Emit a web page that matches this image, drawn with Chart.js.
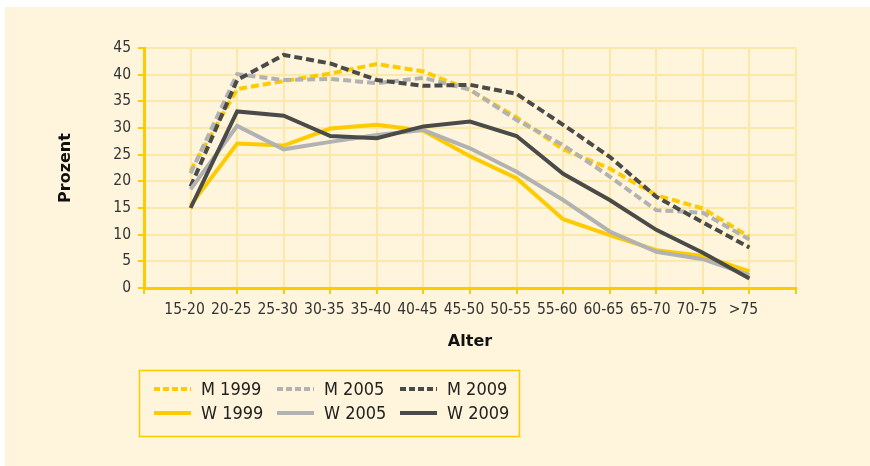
<!DOCTYPE html>
<html lang="de">
<head>
    <meta charset="UTF-8">
    <title>Prozent nach Alter</title>
    <script src="https://cdn.jsdelivr.net/npm/chart.js@4.4.1/dist/chart.umd.min.js"></script>
    <style>
        body {
            margin: 0;
            background-color: #FFFFFF;
        }
        #panel {
            position: absolute;
            left: 5px;
            top: 7px;
            right: 0;
            bottom: 0;
            background-color: #FEF5DC;
        }
        #wrap {
            position: absolute;
            left: 0;
            top: 0;
            width: 870px;
            height: 466px;
        }
    </style>
</head>
<body>
    <div id="panel"></div>
    <div id="wrap"><canvas id="ageChart" width="870" height="466"></canvas></div>

    <script>
        // Altersgruppen (x-Achse)
        const ageGroups = ['15-20', '20-25', '25-30', '30-35', '35-40', '40-45', '45-50',
                           '50-55', '55-60', '60-65', '65-70', '70-75', '>75'];

        // Werte in Prozent
        const m1999 = [22.0, 37.3, 38.8, 40.2, 42.0, 40.6, 37.1, 32.0, 26.0, 22.4, 17.4, 14.9, 9.6];
        const m2005 = [21.5, 40.1, 39.0, 39.2, 38.4, 39.4, 37.2, 31.5, 26.8, 20.9, 14.6, 14.1, 9.1];
        const m2009 = [19.0, 39.0, 43.7, 42.1, 39.0, 37.9, 38.1, 36.4, 30.6, 24.6, 17.1, 12.3, 7.6];
        const w1999 = [15.5, 27.1, 26.7, 29.9, 30.6, 29.5, 24.7, 20.6, 12.9, 9.9, 7.1, 6.0, 3.1];
        const w2005 = [18.5, 30.4, 26.0, 27.4, 28.7, 29.6, 26.2, 21.8, 16.5, 10.6, 6.8, 5.4, 2.4];
        const w2009 = [15.0, 33.1, 32.3, 28.5, 28.1, 30.3, 31.2, 28.5, 21.4, 16.5, 10.9, 6.6, 1.8];

        const yTicksMax = 45;
        const yTicksStep = 5;

        const yellow = '#FDCB00';
        const lightGray = '#B2B2B2';
        const darkGray = '#4A4A48';
        const tickFont = { family: 'DejaVu Sans Condensed', size: 15.5 };
        const textColor = '#333333';

        const toPoints = (values) => values.map((v, i) => ({ x: i, y: v }));

        // order: lower number is drawn on top
        function makeSet(label, values, color, dashed, order) {
            return {
                label: label,
                data: toPoints(values),
                borderColor: color,
                backgroundColor: color,
                borderWidth: 4,
                borderDash: dashed ? [8, 4] : [],
                pointRadius: 0,
                tension: 0,
                fill: false,
                order: order
            };
        }

        // legend box drawn on the canvas, 3 columns x 2 rows
        const boxLegend = {
            id: 'boxLegend',
            afterDraw(chart) {
                const ctx = chart.ctx;
                const area = chart.chartArea;
                const left = area.left - 4.5;
                const top = area.bottom + 82.5;
                const width = 380;
                const height = 66;

                ctx.save();
                ctx.strokeStyle = yellow;
                ctx.lineWidth = 1.5;
                ctx.strokeRect(left, top, width, height);

                ctx.font = '18px "DejaVu Sans Condensed"';
                ctx.textBaseline = 'middle';
                ctx.fillStyle = '#222222';
                chart.data.datasets.forEach((ds, i) => {
                    const col = i % 3;
                    const row = Math.floor(i / 3);
                    const x = left + 14.5 + col * 123;
                    const y = top + 18.5 + row * 24;
                    ctx.beginPath();
                    ctx.strokeStyle = ds.borderColor;
                    ctx.lineWidth = 4;
                    ctx.setLineDash(ds.borderDash.length ? [6, 3] : []);
                    ctx.moveTo(x, y);
                    ctx.lineTo(x + 37, y);
                    ctx.stroke();
                    ctx.setLineDash([]);
                    ctx.fillText(ds.label, x + 47, y + 1);
                });
                ctx.restore();
            }
        };

        const config = {
            type: 'line',
            data: {
                datasets: [
                    makeSet('M 1999', m1999, yellow, true, 6),
                    makeSet('M 2005', m2005, lightGray, true, 5),
                    makeSet('M 2009', m2009, darkGray, true, 4),
                    makeSet('W 1999', w1999, yellow, false, 3),
                    makeSet('W 2005', w2005, lightGray, false, 2),
                    makeSet('W 2009', w2009, darkGray, false, 1)
                ]
            },
            options: {
                responsive: false,
                animation: false,
                layout: {
                    padding: { left: 0, top: 48, right: 74, bottom: 115 }
                },
                scales: {
                    x: {
                        type: 'linear',
                        min: -1,
                        max: ageGroups.length,
                        afterFit: (scale) => { scale.height = 63; },
                        ticks: {
                            stepSize: 1,
                            autoSkip: false,
                            maxRotation: 0,
                            padding: 7,
                            labelOffset: -6,
                            color: textColor,
                            font: tickFont,
                            callback: (v) => ageGroups[v] ?? ''
                        },
                        grid: {
                            color: '#FCE9A9',
                            lineWidth: 2,
                            tickColor: yellow,
                            tickLength: 6,
                            tickWidth: 2
                        },
                        border: { color: yellow, width: 3 },
                        title: {
                            display: true,
                            text: 'Alter',
                            color: '#111111',
                            font: { family: 'DejaVu Sans', size: 16, weight: 'bold' },
                            padding: { top: 0, bottom: 0 }
                        }
                    },
                    y: {
                        min: 0,
                        max: yTicksMax,
                        afterFit: (scale) => { scale.width = 144; },
                        ticks: {
                            stepSize: yTicksStep,
                            padding: 7,
                            color: textColor,
                            font: tickFont
                        },
                        grid: {
                            color: '#FCE9A9',
                            lineWidth: 2,
                            tickColor: yellow,
                            tickLength: 6,
                            tickWidth: 2
                        },
                        border: { color: yellow, width: 3 },
                        title: {
                            display: true,
                            text: 'Prozent',
                            color: '#111111',
                            font: { family: 'DejaVu Sans', size: 16, weight: 'bold' },
                            padding: { top: 56, bottom: 0 }
                        }
                    }
                },
                plugins: {
                    legend: { display: false },
                    tooltip: { enabled: false }
                }
            },
            plugins: [boxLegend]
        };

        const ctx = document.getElementById('ageChart').getContext('2d');
        const chart = new Chart(ctx, config);
    </script>
</body>
</html>
